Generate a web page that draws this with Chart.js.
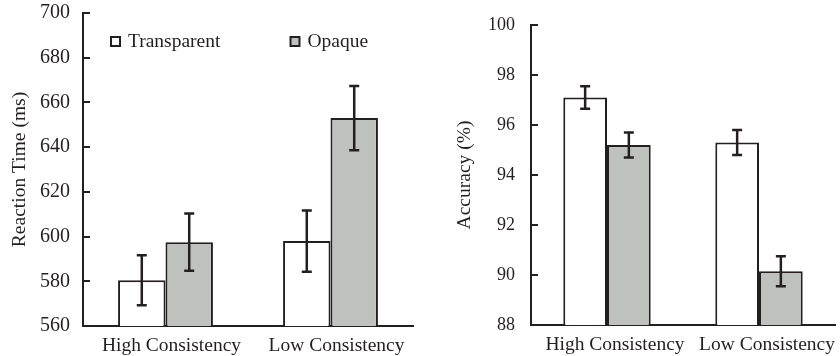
<!DOCTYPE html>
<html>
<head>
<meta charset="utf-8">
<script src="https://cdn.jsdelivr.net/npm/chart.js@4"></script>
<style>
   body { margin: 0; background: #fff; }
   #wrap { position: relative; width: 840px; height: 356px; }
   canvas { position: absolute; top: 0; }
   #rt { left: 0; }
   #acc { left: 420px; }
</style>
</head>
<body>
<div id="wrap">
   <canvas id="rt" width="420" height="356"></canvas>
   <canvas id="acc" width="420" height="356"></canvas>
</div>
<script>
const categories = ["High Consistency", "Low Consistency"];
const seriesNames = ["Transparent", "Opaque"];

const rtTransparent = [580.5, 598];
const rtTransparentErr = [11.2, 13.7];
const rtOpaque = [597.5, 653];
const rtOpaqueErr = [12.8, 14.4];
const rtTicks = [560, 580, 600, 620, 640, 660, 680, 700];

const accTransparent = [97.1, 95.3];
const accTransparentErr = [0.45, 0.5];
const accOpaque = [95.2, 90.15];
const accOpaqueErr = [0.5, 0.6];
const accTicks = [88, 90, 92, 94, 96, 98, 100];

const INK = "#231f20";
const GRAY = "#bfc1bf";
const SERIF = "'Liberation Serif', 'Times New Roman', serif";

const errorBars = {
   id: "errorBars",
   afterDatasetsDraw(chart) {
      const ctx = chart.ctx;
      const y = chart.scales.y;
      ctx.save();
      ctx.strokeStyle = INK;
      ctx.lineWidth = 2.5;
      chart.data.datasets.forEach((ds, i) => {
         chart.getDatasetMeta(i).data.forEach((bar, j) => {
            const top = y.getPixelForValue(ds.data[j] + ds.errors[j]);
            const bot = y.getPixelForValue(ds.data[j] - ds.errors[j]);
            ctx.beginPath();
            ctx.moveTo(bar.x, top); ctx.lineTo(bar.x, bot);
            ctx.moveTo(bar.x - 5, top); ctx.lineTo(bar.x + 5, top);
            ctx.moveTo(bar.x - 5, bot); ctx.lineTo(bar.x + 5, bot);
            ctx.stroke();
         });
      });
      ctx.restore();
   }
};

// y tick marks point into the plot in the original
const innerTicks = {
   id: "innerTicks",
   afterDraw(chart) {
      const ctx = chart.ctx;
      const y = chart.scales.y;
      const left = chart.chartArea.left;
      ctx.save();
      ctx.strokeStyle = INK;
      ctx.lineWidth = 2;
      y.ticks.forEach(t => {
         const py = Math.round(y.getPixelForValue(t.value));
         ctx.beginPath();
         ctx.moveTo(left, py);
         ctx.lineTo(left + 7, py);
         ctx.stroke();
      });
      ctx.restore();
   }
};

// legend drawn inside the plot, like the original figure
const insideLegend = {
   id: "insideLegend",
   afterDraw(chart, args, opts) {
      if (!opts.items) return;
      const ctx = chart.ctx;
      ctx.save();
      ctx.font = `19.5px ${SERIF}`;
      ctx.textBaseline = "middle";
      chart.data.datasets.forEach((ds, i) => {
         const it = opts.items[i];
         ctx.fillStyle = ds.backgroundColor;
         ctx.fillRect(it.x, it.y, 9, 9);
         ctx.strokeStyle = INK;
         ctx.lineWidth = 2;
         ctx.strokeRect(it.x, it.y, 9, 9);
         ctx.fillStyle = INK;
         ctx.fillText(ds.label, it.x + 17, it.y + 5);
      });
      ctx.restore();
   }
};

function makeChart(id, cfg) {
   return new Chart(document.getElementById(id).getContext("2d"), {
      type: "bar",
      data: {
         labels: categories,
         datasets: [
            { label: seriesNames[0], data: cfg.a, errors: cfg.aErr, backgroundColor: "#ffffff", borderColor: INK, borderWidth: 2 },
            { label: seriesNames[1], data: cfg.b, errors: cfg.bErr, backgroundColor: GRAY, borderColor: INK, borderWidth: 2 },
         ],
      },
      options: {
         responsive: false,
         animation: false,
         layout: { padding: cfg.padding },
         datasets: { bar: { categoryPercentage: 0.575, barPercentage: 1.0 } },
         plugins: {
            legend: { display: false },
            tooltip: { enabled: false },
            insideLegend: { items: cfg.legend },
         },
         scales: {
            x: {
               grid: { display: false, drawTicks: false },
               border: { color: INK, width: 2 },
               ticks: { color: INK, font: { family: SERIF, size: 19.5 }, padding: 8, labelOffset: cfg.labelOffset, maxRotation: 0 },
               afterFit: s => { s.height = cfg.xHeight; },
            },
            y: {
               min: cfg.ticks[0],
               max: cfg.ticks[cfg.ticks.length - 1],
               afterBuildTicks: s => { s.ticks = cfg.ticks.map(v => ({ value: v })); },
               // outward ticks kept invisible: they only set the label gap
               grid: { drawOnChartArea: false, drawTicks: true, tickLength: cfg.tickGap, color: "rgba(0,0,0,0)" },
               border: { color: INK, width: 2 },
               ticks: { color: INK, font: { family: SERIF, size: cfg.tickSize }, padding: 0 },
               title: { display: true, text: cfg.title, color: INK, font: { family: SERIF, size: 19.5 }, padding: { top: cfg.titlePad, bottom: 0 } },
               afterFit: s => { s.width = cfg.yWidth; },
            },
         },
      },
      plugins: [errorBars, innerTicks, insideLegend],
   });
}

makeChart("rt", {
   a: rtTransparent, aErr: rtTransparentErr, b: rtOpaque, bErr: rtOpaqueErr,
   ticks: rtTicks, title: "Reaction Time (ms)",
   padding: { top: 13, right: 7, left: 0, bottom: 0 },
   yWidth: 83, xHeight: 30, tickSize: 20, tickGap: 13, titlePad: 8, labelOffset: 6,
   legend: [{ x: 111, y: 37 }, { x: 290.5, y: 37 }],
});

makeChart("acc", {
   a: accTransparent, aErr: accTransparentErr, b: accOpaque, bErr: accOpaqueErr,
   ticks: accTicks, title: "Accuracy (%)",
   padding: { top: 25, right: 5, left: 0, bottom: 0 },
   yWidth: 111, xHeight: 31, tickSize: 18, tickGap: 16, titlePad: 33, labelOffset: 8,
   legend: null,
});
</script>
</body>
</html>
